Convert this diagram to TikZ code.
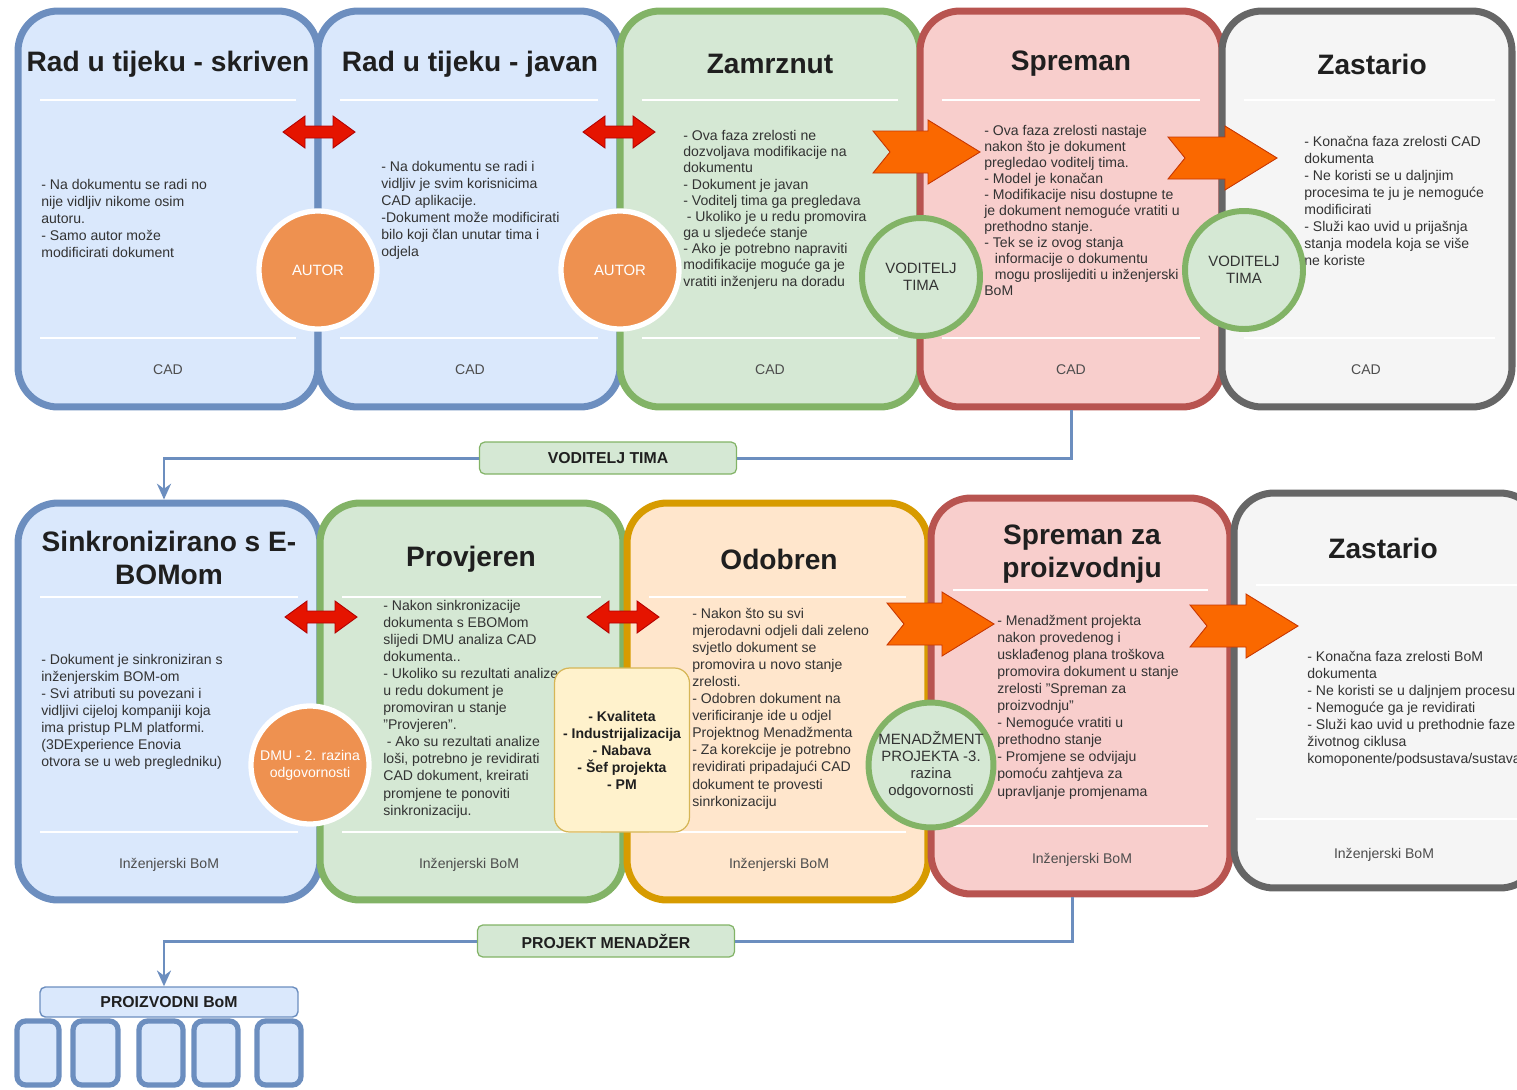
\documentclass[tikz,border=0pt]{standalone}
\usepackage{fontspec}
\setmainfont{Liberation Sans}
\usetikzlibrary{arrows.meta}

\definecolor{plavaF}{HTML}{DAE8FC}
\definecolor{plavaD}{HTML}{6C8EBF}
\definecolor{zelenaF}{HTML}{D5E8D4}
\definecolor{zelenaD}{HTML}{82B366}
\definecolor{crvenaF}{HTML}{F8CECC}
\definecolor{crvenaD}{HTML}{B85450}
\definecolor{sivaF}{HTML}{F5F5F5}
\definecolor{sivaD}{HTML}{666666}
\definecolor{narF}{HTML}{FFE6CC}
\definecolor{narD}{HTML}{D79B00}
\definecolor{zutaF}{HTML}{FFF2CC}
\definecolor{zutaD}{HTML}{D6B656}
\definecolor{krugNar}{HTML}{EE9150}
\definecolor{strCrv}{HTML}{E51400}
\definecolor{strCrvD}{HTML}{B20000}
\definecolor{strNar}{HTML}{FA6800}
\definecolor{strNarD}{HTML}{C73500}
\definecolor{naslovC}{HTML}{1F1F1F}
\definecolor{tekstC}{HTML}{333333}
\definecolor{podC}{HTML}{4D4D4D}

\begin{document}
\begin{tikzpicture}[x=0.02cm,y=-0.02cm,
    kartica/.style={line width=4pt,rounded corners=0.8cm,inner sep=0pt},
    naslov/.style={font=\fontsize{16}{18.7}\selectfont\bfseries,text=naslovC,align=center},
    tekst/.style={anchor=north west,inner sep=0pt,align=left,font=\fontsize{8}{9.7}\selectfont,text=tekstC},
    podnozje/.style={font=\fontsize{8}{9.7}\selectfont,text=podC},
    crta/.style={white,line width=1.6pt},
    krug/.style={circle,inner sep=0pt,minimum size=2.36cm,align=center,font=\fontsize{8.5}{9.8}\selectfont},
    autorKrug/.style={krug,fill=krugNar,draw=white,line width=3pt,text=white},
    vodKrug/.style={krug,fill=zelenaF,draw=zelenaD,line width=3.4pt,text=tekstC},
    crvStrelica/.style={fill=strCrv,draw=strCrvD,line width=0.5pt},
    narStrelica/.style={fill=strNar,draw=strNarD,line width=0.5pt},
    veza/.style={draw=plavaD,line width=1.7pt},
    oznaka/.style={fill=zelenaF,draw=zelenaD,line width=0.7pt,rounded corners=3pt,
      minimum width=5.14cm,minimum height=0.64cm,font=\fontsize{9}{10}\selectfont\bfseries,text=naslovC},
    dio/.style={fill=plavaF,draw=plavaD,line width=3pt,rounded corners=5pt}
  ]

  \useasboundingbox (0,0) rectangle (1517,1089);
  \clip (0,0) rectangle (1517,1089);

  % gornji red - CAD

  \node[kartica,draw=plavaD,fill=plavaF,minimum width=6cm,minimum height=7.92cm] (skriven) at (168,209) {};
  \node[naslov] (skrivenN) at (168,64) {Rad u tijeku - skriven};
  \draw[crta] (40,100) -- (296,100);
  \draw[crta] (40,338) -- (296,338);
  \node[podnozje] (skrivenP) at (168,370) {CAD};
  \node[tekst] (skrivenT) at (41,179)
  {- Na dokumentu se radi no\\nije vidljiv nikome osim\\autoru.\\- Samo autor može\\modificirati dokument};

  \node[kartica,draw=plavaD,fill=plavaF,minimum width=6.04cm,minimum height=7.92cm] (javan) at (469,209) {};
  \node[naslov] (javanN) at (470,64) {Rad u tijeku - javan};
  \draw[crta] (340,100) -- (598,100);
  \draw[crta] (340,338) -- (598,338);
  \node[podnozje] (javanP) at (470,370) {CAD};
  \node[tekst] (javanT) at (381,161)
  {- Na dokumentu se radi i\\vidljiv je svim korisnicima\\CAD aplikacije.\\-Dokument može modificirati\\bilo koji član unutar tima i\\odjela};

  \node[kartica,draw=zelenaD,fill=zelenaF,minimum width=6cm,minimum height=7.92cm] (zamrznut) at (770,209) {};
  \node[naslov] (zamrznutN) at (770,64) {Zamrznut};
  \draw[crta] (642,100) -- (898,100);
  \draw[crta] (642,338) -- (898,338);
  \node[podnozje] (zamrznutP) at (770,370) {CAD};
  \node[tekst,font=\fontsize{8}{9.2}\selectfont] (zamrznutT) at (683,130)
  {- Ova faza zrelosti ne\\dozvoljava modifikacije na\\dokumentu\\- Dokument je javan\\- Voditelj tima ga pregledava\\
    \hspace*{2pt}- Ukoliko je u redu promovira\\ga u sljedeće stanje\\- Ako je potrebno napraviti\\modifikacije moguće ga je\\vratiti inženjeru na doradu};

  \node[kartica,draw=crvenaD,fill=crvenaF,minimum width=6.04cm,minimum height=7.92cm] (spreman) at (1071,209) {};
  \node[naslov] (spremanN) at (1071,64) {Spreman};
  \draw[crta] (942,100) -- (1200,100);
  \draw[crta] (942,338) -- (1200,338);
  \node[podnozje] (spremanP) at (1071,370) {CAD};
  \node[tekst,font=\fontsize{8}{9.1}\selectfont] (spremanT) at (984,125)
  {- Ova faza zrelosti nastaje\\nakon što je dokument\\pregledao voditelj tima.\\- Model je konačan\\- Modifikacije nisu dostupne te\\
    je dokument nemoguće vratiti u\\prethodno stanje.\\- Tek se iz ovog stanja\\\hspace*{6pt}informacije o dokumentu\\
    \hspace*{6pt}mogu proslijediti u inženjerski\\BoM};

  \node[kartica,draw=sivaD,fill=sivaF,minimum width=5.8cm,minimum height=7.92cm] (zastario) at (1367,209) {};
  \node[naslov] (zastarioN) at (1372,64) {Zastario};
  \draw[crta] (1244,100) -- (1495,100);
  \draw[crta] (1244,338) -- (1495,338);
  \node[podnozje] (zastarioP) at (1366,370) {CAD};
  \node[tekst] (zastarioT) at (1304,136)
  {- Konačna faza zrelosti CAD\\dokumenta\\- Ne koristi se u daljnjim\\procesima te ju je nemoguće\\modificirati\\
    - Služi kao uvid u prijašnja\\stanja modela koja se više\\ne koriste};

  % donji red - inzenjerski BoM

  \node[kartica,draw=plavaD,fill=plavaF,minimum width=6.04cm,minimum height=7.94cm] (sinkr) at (169,701.5) {};
  \node[naslov] (sinkrN) at (169,558) {Sinkronizirano s E-\\BOMom};
  \draw[crta] (40,597) -- (298,597);
  \draw[crta] (40,832) -- (298,832);
  \node[podnozje] (sinkrP) at (169,865) {Inženjerski BoM};
  \node[tekst] (sinkrT) at (41,654)
  {- Dokument je sinkroniziran s\\inženjerskim BOM-om\\- Svi atributi su povezani i\\vidljivi cijeloj kompaniji koja\\
    ima pristup PLM platformi.\\(3DExperience Enovia\\otvora se u web pregledniku)};

  \node[kartica,draw=zelenaD,fill=zelenaF,minimum width=6.06cm,minimum height=7.94cm] (provjeren) at (471.5,701.5) {};
  \node[naslov] (provjerenN) at (471,559) {Provjeren};
  \draw[crta] (342,597) -- (601,597);
  \draw[crta] (342,832) -- (601,832);
  \node[podnozje] (provjerenP) at (469,865) {Inženjerski BoM};
  \node[tekst] (provjerenT) at (383,600)
  {- Nakon sinkronizacije\\dokumenta s EBOMom\\slijedi DMU analiza CAD\\dokumenta..\\- Ukoliko su rezultati analize\\
    u redu dokument je\\promoviran u stanje\\"Provjeren".\\\hspace*{2pt}- Ako su rezultati analize\\
    loši, potrebno je revidirati\\CAD dokument, kreirati\\promjene te ponoviti\\sinkronizaciju.};

  \node[kartica,draw=narD,fill=narF,minimum width=6.02cm,minimum height=7.94cm] (odobren) at (777.5,701.5) {};
  \node[naslov] (odobrenN) at (779,559) {Odobren};
  \draw[crta] (649,597) -- (906,597);
  \draw[crta] (649,832) -- (906,832);
  \node[podnozje] (odobrenP) at (779,865) {Inženjerski BoM};
  \node[tekst] (odobrenT) at (692,608)
  {- Nakon što su svi\\mjerodavni odjeli dali zeleno\\svjetlo dokument se\\promovira u novo stanje\\zrelosti.\\
    - Odobren dokument na\\verificiranje ide u odjel\\Projektnog Menadžmenta\\- Za korekcije je potrebno\\
    revidirati pripadajući CAD\\dokument te provesti\\sinrkonizaciju};

  \node[kartica,draw=crvenaD,fill=crvenaF,minimum width=5.98cm,minimum height=7.92cm] (sprProd) at (1080.5,696) {};
  \node[naslov] (sprProdN) at (1082,554) {Spreman za\\proizvodnju};
  \draw[crta] (953,590) -- (1208,590);
  \draw[crta] (953,826) -- (1208,826);
  \node[podnozje] (sprProdP) at (1082,860) {Inženjerski BoM};
  \node[tekst] (sprProdT) at (997,615)
  {- Menadžment projekta\\nakon provedenog i\\usklađenog plana troškova\\promovira dokument u stanje\\
    zrelosti "Spreman za\\proizvodnju"\\- Nemoguće vratiti u\\prethodno stanje\\- Promjene se odvijaju\\
    pomoću zahtjeva za\\upravljanje promjenama};

  \node[kartica,draw=sivaD,fill=sivaF,minimum width=6.12cm,minimum height=7.9cm] (zastBom) at (1387,690.5) {};
  \node[naslov] (zastBomN) at (1383,548) {Zastario};
  \draw[crta] (1256,585) -- (1517,585);
  \draw[crta] (1256,819) -- (1517,819);
  \node[podnozje] (zastBomP) at (1384,855) {Inženjerski BoM};
  \node[tekst] (zastBomT) at (1307,651)
  {- Konačna faza zrelosti BoM\\dokumenta\\- Ne koristi se u daljnjem procesu\\- Nemoguće ga je revidirati\\
    - Služi kao uvid u prethodnie faze\\životnog ciklusa\\komoponente/podsustava/sustava};

  % odgovornosti

  \node[autorKrug] (autor1) at (318,270) {AUTOR};
  \node[autorKrug] (autor2) at (620,270) {AUTOR};
  \node[vodKrug] (vod1) at (921,277) {VODITELJ\\TIMA};
  \node[vodKrug] (vod2) at (1244,270) {VODITELJ\\TIMA};
  \node[autorKrug,font=\fontsize{8}{9.6}\selectfont] (dmu) at (310,765) {DMU - 2. razina\\odgovornosti};
  \node[vodKrug] (menadz) at (931,765) {MENADŽMENT\\PROJEKTA -3.\\razina\\odgovornosti};

  \node[fill=zutaF,draw=zutaD,line width=0.7pt,rounded corners=0.3cm,minimum width=2.7cm,minimum height=3.28cm,
    align=center,font=\fontsize{8}{9.7}\selectfont\bfseries,text=naslovC] (odjeli) at (622,750)
  {- Kvaliteta\\- Industrijalizacija\\- Nabava\\- Šef projekta\\- PM};

  % strelice izmedju stanja

  \begin{scope}[shift={(283,132)}]
    \filldraw[crvStrelica] (0,0) -- (22,-16) -- (22,-6) -- (50,-6) -- (50,-16) -- (72,0)
    -- (50,16) -- (50,6) -- (22,6) -- (22,16) -- cycle;
  \end{scope}

  \begin{scope}[shift={(583,132)}]
    \filldraw[crvStrelica] (0,0) -- (22,-16) -- (22,-6) -- (50,-6) -- (50,-16) -- (72,0)
    -- (50,16) -- (50,6) -- (22,6) -- (22,16) -- cycle;
  \end{scope}

  \begin{scope}[shift={(285,617)}]
    \filldraw[crvStrelica] (0,0) -- (22,-16) -- (22,-6) -- (50,-6) -- (50,-16) -- (72,0)
    -- (50,16) -- (50,6) -- (22,6) -- (22,16) -- cycle;
  \end{scope}

  \begin{scope}[shift={(587,617)}]
    \filldraw[crvStrelica] (0,0) -- (22,-16) -- (22,-6) -- (50,-6) -- (50,-16) -- (72,0)
    -- (50,16) -- (50,6) -- (22,6) -- (22,16) -- cycle;
  \end{scope}

  \begin{scope}[shift={(873,152)}]
    \filldraw[narStrelica] (0,-21) -- (55,-21) -- (55,-32) -- (107,0) -- (55,32)
    -- (55,21) -- (0,21) -- (17,0) -- cycle;
  \end{scope}

  \begin{scope}[shift={(1168,158)}]
    \filldraw[narStrelica] (0,-21) -- (57,-21) -- (57,-32) -- (109,0) -- (57,32)
    -- (57,21) -- (0,21) -- (17,0) -- cycle;
  \end{scope}

  \begin{scope}[shift={(887,624)}]
    \filldraw[narStrelica] (0,-21) -- (55,-21) -- (55,-32) -- (107,0) -- (55,32)
    -- (55,21) -- (0,21) -- (17,0) -- cycle;
  \end{scope}

  \begin{scope}[shift={(1190,626)}]
    \filldraw[narStrelica] (0,-21) -- (56,-21) -- (56,-32) -- (108,0) -- (56,32)
    -- (56,21) -- (0,21) -- (17,0) -- cycle;
  \end{scope}

  % prijelazi

  \node[oznaka] (vodLbl) at (608,458) {VODITELJ TIMA};
  \draw[veza] (spreman.south) |- (vodLbl.east);
  \draw[veza,-{Stealth[length=9pt,width=8pt]}] (vodLbl.west) -| ([xshift=-0.1cm]sinkr.north);

  \node[fill=plavaF,draw=plavaD,line width=0.8pt,rounded corners=3pt,minimum width=5.16cm,minimum height=0.6cm,
    font=\fontsize{9}{10}\selectfont\bfseries,text=naslovC] (proizv) at (169,1002) {PROIZVODNI BoM};

  \node[oznaka] (pmLbl) at (606,941) {PROJEKT MENADŽER};
  \draw[veza] ([xshift=-0.17cm]sprProd.south) |- (pmLbl.east);
  \draw[veza,-{Stealth[length=9pt,width=8pt]}] (pmLbl.west) -| ([xshift=-0.1cm]proizv.north);

  \filldraw[dio] (17,1021) rectangle (59,1085);
  \filldraw[dio] (73,1021) rectangle (118,1085);
  \filldraw[dio] (139,1021) rectangle (183,1085);
  \filldraw[dio] (194,1021) rectangle (238,1085);
  \filldraw[dio] (257,1021) rectangle (301,1085);

\end{tikzpicture}
\end{document}
